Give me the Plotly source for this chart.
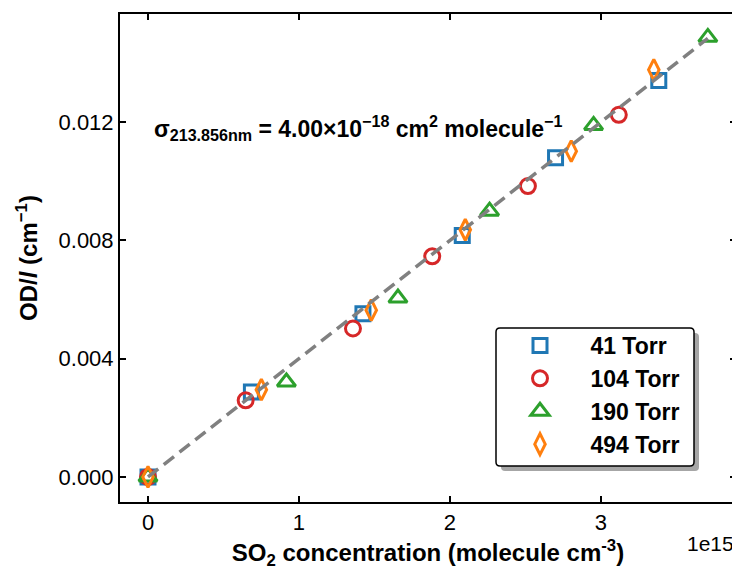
import plotly.graph_objects as go

# ---- data (SO2 concentration in molecule cm^-3, OD/l in cm^-1) ----
x_41 = [0.0, 0.685e15, 1.424e15, 2.082e15, 2.700e15, 3.384e15]
y_41 = [0.0, 2.87e-3, 5.52e-3, 8.17e-3, 10.80e-3, 13.41e-3]

x_104 = [0.0, 0.647e15, 1.358e15, 1.883e15, 2.517e15, 3.119e15]
y_104 = [0.0, 2.59e-3, 5.02e-3, 7.46e-3, 9.84e-3, 12.25e-3]

x_190 = [0.0, 0.917e15, 1.656e15, 2.263e15, 2.952e15, 3.709e15]
y_190 = [0.0, 3.21e-3, 6.05e-3, 8.99e-3, 11.89e-3, 14.87e-3]

x_494 = [0.0, 0.751e15, 1.479e15, 2.102e15, 2.804e15, 3.351e15]
y_494 = [0.0, 2.95e-3, 5.64e-3, 8.36e-3, 11.02e-3, 13.77e-3]

series_names = ["41 Torr", "104 Torr", "190 Torr", "494 Torr"]
sigma = 4.00e-18  # cm^2 molecule^-1

x_tickvals = [0, 1e15, 2e15, 3e15]
x_ticktext = ["0", "1", "2", "3"]
y_tickvals = [0.0, 0.004, 0.008, 0.012]
y_ticktext = ["0.000", "0.004", "0.008", "0.012"]

# ---- layout geometry (page has an 8px body margin) ----
OFF = 8
W, H = 740 - OFF, 580 - OFF
ML, MR, MT, MB = 120 - OFF, 4, 14 - OFF, 78
PW, PH = W - ML - MR, H - MT - MB
FONT = "Arial, Liberation Sans, sans-serif"


def px2paper(px, py):
    """page pixel -> paper coords"""
    return (px - OFF - ML) / PW, (H - MB - (py - OFF)) / PH


colors = ["#1f77b4", "#d62728", "#2ca02c", "#ff7f0e"]
symbols = ["square-open", "circle-open", "triangle-up-open", "diamond-tall-open"]
sizes = [14, 15, 16, 15]
xs = [x_41, x_104, x_190, x_494]
ys = [y_41, y_104, y_190, y_494]

fig = go.Figure()
for i in range(4):
    fig.add_trace(go.Scatter(
        x=xs[i], y=ys[i], mode="markers", name="\u00a0" + series_names[i],
        marker=dict(symbol=symbols[i], size=sizes[i], color=colors[i],
                    line=dict(width=3, color=colors[i])),
    ))

xmax = max(max(x_41), max(x_104), max(x_190), max(x_494))
fit_x = [0.0, xmax]
fit_y = [sigma * v for v in fit_x]
fig.add_trace(go.Scatter(
    x=fit_x, y=fit_y, mode="lines", showlegend=False,
    line=dict(color="#808080", width=3.5, dash="13px,7px"),
))


def rounded_rect(x0, y0, x1, y1, r):
    def P(px, py):
        a, b = px2paper(px, py)
        return f"{a:.5f},{b:.5f}"
    return (f"M{P(x0 + r, y0)} L{P(x1 - r, y0)} Q{P(x1, y0)} {P(x1, y0 + r)} "
            f"L{P(x1, y1 - r)} Q{P(x1, y1)} {P(x1 - r, y1)} "
            f"L{P(x0 + r, y1)} Q{P(x0, y1)} {P(x0, y1 - r)} "
            f"L{P(x0, y0 + r)} Q{P(x0, y0)} {P(x0 + r, y0)} Z")


bx0, by0, bx1, by1 = 496, 328, 694, 466
shapes = [
    dict(type="path", xref="paper", yref="paper",
         path=rounded_rect(bx0 + 5, by0 + 5, bx1 + 5, by1 + 5, 4),
         fillcolor="rgba(0,0,0,0.35)", line=dict(width=0), layer="above"),
    dict(type="path", xref="paper", yref="paper",
         path=rounded_rect(bx0, by0, bx1, by1, 4),
         fillcolor="white", line=dict(color="black", width=1.5), layer="above"),
]

lx, ly = px2paper(bx0, by0 - 4)

fig.update_layout(
    width=W, height=H,
    margin=dict(l=ML, r=MR, t=MT, b=MB, pad=0, autoexpand=False),
    paper_bgcolor="white", plot_bgcolor="white",
    font=dict(family=FONT, size=22, color="black"),
    shapes=shapes,
    showlegend=True,
    legend=dict(
        x=lx, y=ly, xanchor="left", yanchor="top",
        bgcolor="rgba(0,0,0,0)", borderwidth=0,
        font=dict(family=FONT, size=23, color="black", weight="bold"),
        itemwidth=78, tracegroupgap=0,
    ),
    xaxis=dict(
        range=[-0.1855e15, 3.8955e15], automargin=False,
        tickvals=x_tickvals, ticktext=x_ticktext,
        ticks="inside", ticklen=6, tickwidth=2, tickcolor="black",
        showline=True, linewidth=2, linecolor="black", mirror="allticks",
        showgrid=False, zeroline=False,
        tickfont=dict(size=22),
        title=dict(text="<b>SO<sub>2</sub> concentration (molecule cm<sup>-3</sup>)</b>",
                   font=dict(size=24), standoff=10),
    ),
    yaxis=dict(
        range=[-0.00085, 0.01566], automargin=False,
        tickvals=y_tickvals, ticktext=y_ticktext,
        ticks="inside", ticklen=6, tickwidth=2, tickcolor="black",
        showline=True, linewidth=2, linecolor="black", mirror="allticks",
        showgrid=False, zeroline=False,
        tickfont=dict(size=22),
        title=dict(text="<b>OD/<i>l</i> (cm<sup>\u22121</sup>)</b>",
                   font=dict(size=24), standoff=14),
    ),
    annotations=[
        dict(xref="paper", yref="paper", x=1.0, y=px2paper(0, 543)[1],
             xanchor="right", yanchor="middle", showarrow=False,
             text="1e15", font=dict(size=21)),
        dict(xref="paper", yref="paper", x=px2paper(152, 0)[0], y=px2paper(0, 128)[1],
             xanchor="left", yanchor="middle", showarrow=False,
             text="<b>\u03c3<sub>213.856nm</sub> = 4.00\u00d710<sup>\u221218</sup> cm<sup>2</sup> molecule<sup>\u22121</sup></b>",
             font=dict(size=23)),
    ],
)

fig.write_html("out.html")
